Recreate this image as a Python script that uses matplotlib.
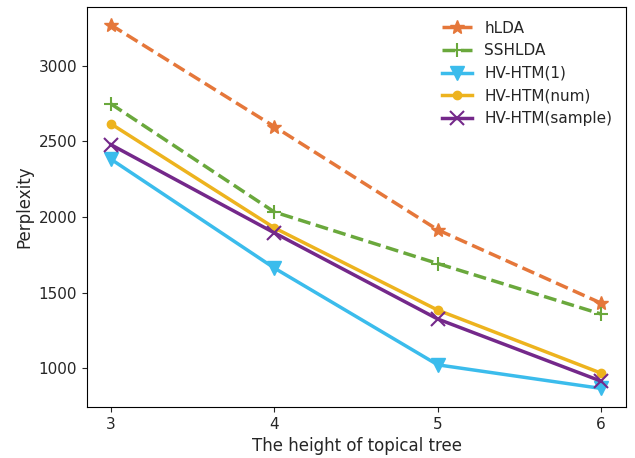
import matplotlib
matplotlib.use("Agg")
import matplotlib.pyplot as plt

heights = [3, 4, 5, 6]
hlda = [3270, 2598, 1915, 1430]
sshlda = [2748, 2033, 1692, 1358]
hvhtm_1 = [2382, 1662, 1022, 866]
hvhtm_num = [2616, 1928, 1384, 967]
hvhtm_sample = [2478, 1895, 1325, 914]

plt.rcParams["text.color"] = "#262626"
plt.rcParams["axes.labelcolor"] = "#262626"
plt.rcParams["xtick.color"] = "#262626"
plt.rcParams["ytick.color"] = "#262626"

fig, ax = plt.subplots(figsize=(6.35, 4.58), dpi=100)

ax.plot(heights, hlda, color="#E5773A", linestyle="--", linewidth=2.5,
        marker="*", markersize=10, label="hLDA")
ax.plot(heights, sshlda, color="#6AA83C", linestyle="--", linewidth=2.5,
        marker="+", markersize=10, markeredgewidth=1.5, label="SSHLDA")
ax.plot(heights, hvhtm_1, color="#3BBCEC", linestyle="-", linewidth=2.5,
        marker="v", markersize=10, label="HV-HTM(1)")
ax.plot(heights, hvhtm_num, color="#EDB31E", linestyle="-", linewidth=2.5,
        marker="o", markersize=6, label="HV-HTM(num)")
ax.plot(heights, hvhtm_sample, color="#74288A", linestyle="-", linewidth=2.5,
        marker="x", markersize=10, markeredgewidth=1.5, label="HV-HTM(sample)")

ax.set_xticks(heights)
ax.set_yticks([1000, 1500, 2000, 2500, 3000])
ax.set_ylim(742, 3390)
ax.set_xlim(2.853, 6.153)
ax.set_xlabel("The height of topical tree", fontsize=12)
ax.set_ylabel("Perplexity", fontsize=12)
ax.tick_params(labelsize=11)
ax.legend(frameon=False, fontsize=11, loc="upper right")

fig.subplots_adjust(left=0.137, right=0.986, top=0.985, bottom=0.111)
fig.savefig("out.png", dpi=100)
